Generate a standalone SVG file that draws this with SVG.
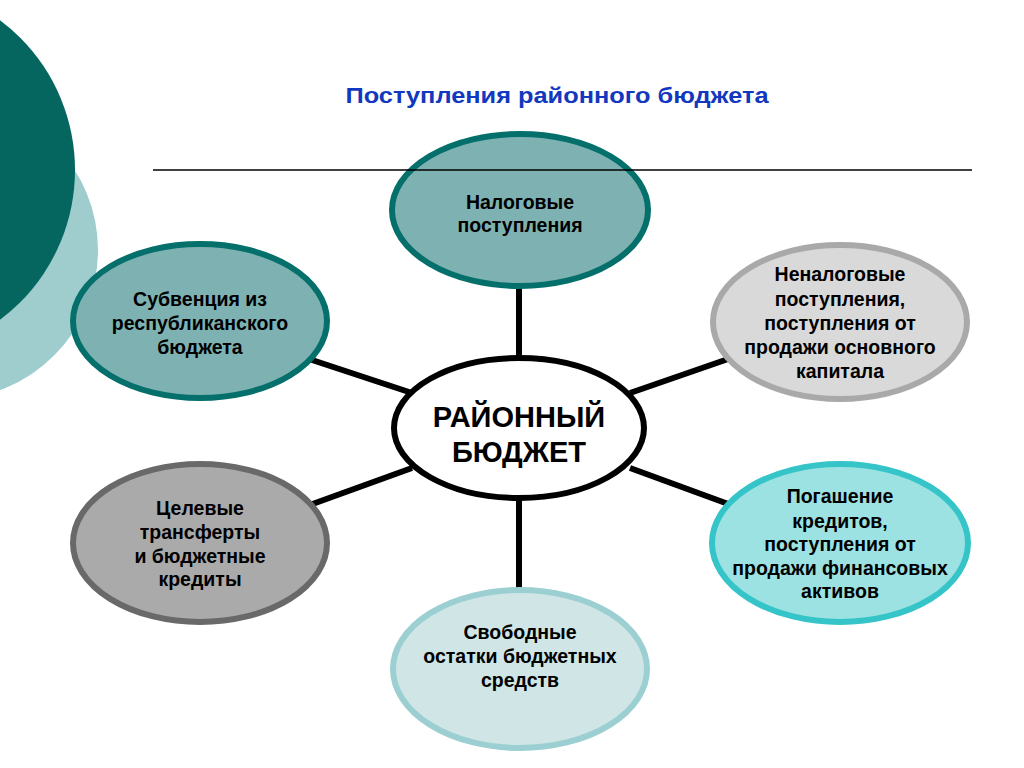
<svg xmlns="http://www.w3.org/2000/svg" width="1024" height="768" viewBox="0 0 1024 768">
<style>
.t{font-family:"Liberation Sans",Arial,sans-serif;font-weight:bold;fill:#000;text-anchor:middle;font-size:19.5px}
.c{font-size:29px}
.ttl{font-family:"Liberation Sans",Arial,sans-serif;font-weight:bold;fill:#1238c0;font-size:22.5px;text-anchor:middle}
.n{stroke-width:6}
.con line{stroke:#000;stroke-width:6}
</style>
<rect width="1024" height="768" fill="#fff"/>
<g id="background">
<circle cx="-51" cy="250" r="149" fill="#9fcdce"/>
<circle cx="-112" cy="170" r="187" fill="#04665f"/>
</g>
<text class="ttl" x="557" y="103" textLength="423" lengthAdjust="spacingAndGlyphs">Поступления районного бюджета</text>
<g class="con" id="connectors">
<line x1="519" y1="287" x2="519" y2="358"/>
<line x1="519" y1="498" x2="519" y2="590"/>
<line x1="309" y1="359" x2="412" y2="393"/>
<line x1="630" y1="393" x2="731" y2="358"/>
<line x1="630" y1="468" x2="731" y2="505"/>
<line x1="412" y1="468" x2="307" y2="506"/>
</g>
<g id="n-tax">
<ellipse class="n" cx="520" cy="210" rx="128" ry="76" fill="#7eb2b2" stroke="#05706b"/>
<text class="t" x="520" y="209">Налоговые</text>
<text class="t" x="520" y="232">поступления</text>
</g>
<line x1="153" y1="170" x2="972" y2="170" stroke="#000" stroke-width="1.5"/>
<g id="n-center">
<ellipse class="n" cx="519" cy="428" rx="125" ry="70" fill="#fff" stroke="#000"/>
<text class="t c" x="519" y="427">РАЙОННЫЙ</text>
<text class="t c" x="519" y="462">БЮДЖЕТ</text>
</g>
<g id="n-subv">
<ellipse class="n" cx="200" cy="321" rx="127" ry="77" fill="#7eb2b2" stroke="#05706b"/>
<text class="t" x="200" y="306">Субвенция из</text>
<text class="t" x="200" y="330">республиканского</text>
<text class="t" x="200" y="354">бюджета</text>
</g>
<g id="n-nontax">
<ellipse class="n" cx="840" cy="322" rx="127" ry="77" fill="#d9d9d9" stroke="#a9a9a9"/>
<text class="t" x="840" y="281">Неналоговые</text>
<text class="t" x="840" y="306">поступления,</text>
<text class="t" x="840" y="330">поступления от</text>
<text class="t" x="840" y="354">продажи основного</text>
<text class="t" x="840" y="378">капитала</text>
</g>
<g id="n-credit">
<ellipse class="n" cx="840" cy="543" rx="128" ry="79" fill="#9de2e2" stroke="#35c4c8"/>
<text class="t" x="840" y="503">Погашение</text>
<text class="t" x="840" y="528">кредитов,</text>
<text class="t" x="840" y="551">поступления от</text>
<text class="t" x="840" y="575">продажи финансовых</text>
<text class="t" x="840" y="598">активов</text>
</g>
<g id="n-target">
<ellipse class="n" cx="200" cy="543" rx="127" ry="79" fill="#aaaaaa" stroke="#696969"/>
<text class="t" x="200" y="515">Целевые</text>
<text class="t" x="200" y="539">трансферты</text>
<text class="t" x="200" y="563">и бюджетные</text>
<text class="t" x="200" y="586">кредиты</text>
</g>
<g id="n-free">
<ellipse class="n" cx="520" cy="669" rx="127" ry="79" fill="#cfe5e6" stroke="#9ccfd1"/>
<text class="t" x="520" y="639">Свободные</text>
<text class="t" x="520" y="663">остатки бюджетных</text>
<text class="t" x="520" y="687">средств</text>
</g>
</svg>
